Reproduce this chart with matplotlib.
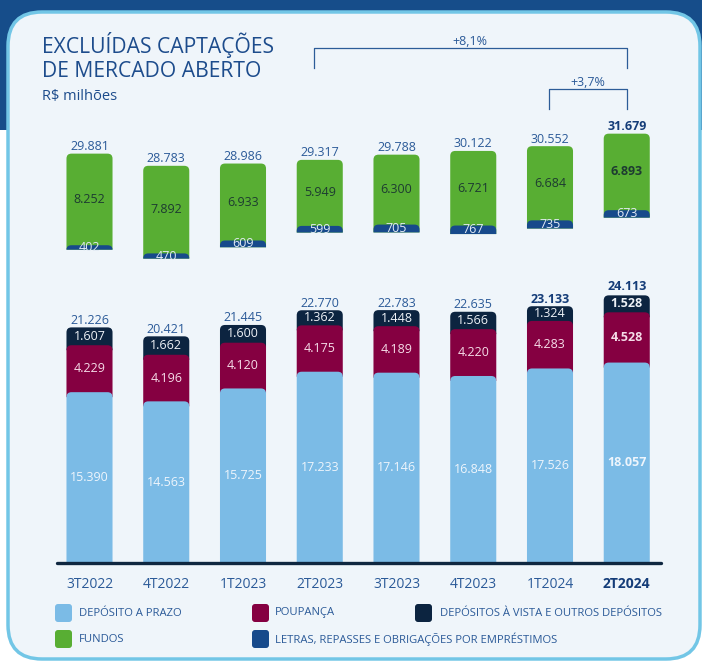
import matplotlib
matplotlib.use("Agg")
import matplotlib.pyplot as plt
from matplotlib.patches import FancyBboxPatch, PathPatch, Rectangle
from matplotlib.path import Path
from matplotlib.transforms import Affine2D

plt.rcParams['font.family'] = ['Open Sans', 'DejaVu Sans']

# ---------------- data ----------------
periods = ["3T2022", "4T2022", "1T2023", "2T2023", "3T2023", "4T2023", "1T2024", "2T2024"]
prazo = [15390, 14563, 15725, 17233, 17146, 16848, 17526, 18057]
poupanca = [4229, 4196, 4120, 4175, 4189, 4220, 4283, 4528]
vista = [1607, 1662, 1600, 1362, 1448, 1566, 1324, 1528]
total_depositos = [21226, 20421, 21445, 22770, 22783, 22635, 23133, 24113]
letras = [402, 470, 609, 599, 705, 767, 735, 673]
fundos = [8252, 7892, 6933, 5949, 6300, 6721, 6684, 6893]
total_geral = [29881, 28783, 28986, 29317, 29788, 30122, 30552, 31679]
var_labels = ["+8,1%", "+3,7%"]
legend_labels = ["DEPÓSITO A PRAZO", "POUPANÇA", "DEPÓSITOS À VISTA E OUTROS DEPÓSITOS",
                 "FUNDOS", "LETRAS, REPASSES E OBRIGAÇÕES POR EMPRÉSTIMOS"]

# ---------------- style ----------------
C_PRAZO = "#7bbbe6"
C_POUP = "#850041"
C_VISTA = "#0c2440"
C_FUNDOS = "#58ae33"
C_LETRAS = "#174a8b"
C_TXT = "#2b5a98"
C_DARK = "#143c78"
GAP = 7000  # visual gap between lower and upper stacks

W, H = 702, 662
fig = plt.figure(figsize=(W / 100, H / 100), dpi=100)
fig.patch.set_facecolor("white")
pix = Affine2D().scale(1 / W, 1 / H) + fig.transFigure

# background
fig.add_artist(Rectangle((0, H - 130), W, 130, transform=pix, fc="#164d8a", ec="none", zorder=-3))
fig.add_artist(FancyBboxPatch((8, H - 659), 692, 647, boxstyle="round,pad=0,rounding_size=34",
                              transform=pix, fc="#eff5fa", ec="#72c6e6", lw=2.5, zorder=-2))

ax = fig.add_axes([0, 0, 1, 1])
ax.patch.set_visible(False)
ax.axis("off")
x0p, dxp = 89.5, 76.75
y0p, syp = 563, 0.0111
ax.set_xlim((0 - x0p) / dxp, (W - x0p) / dxp)
ax.set_ylim((y0p - H) / syp, y0p / syp)


def X(p):
    return (p - x0p) / dxp


def Y(p):
    return (y0p - p) / syp


rx, ry = 5 / dxp, 5 / syp
BW = 0.6


def top_round(x, b, t, color, z):
    x0, x1 = x - BW / 2, x + BW / 2
    r_y = min(ry, t - b)
    verts = [(x0, b), (x1, b), (x1, t - r_y), (x1, t), (x1 - rx, t), (x0 + rx, t),
             (x0, t), (x0, t - r_y), (x0, b)]
    codes = [Path.MOVETO, Path.LINETO, Path.LINETO, Path.CURVE3, Path.CURVE3, Path.LINETO,
             Path.CURVE3, Path.CURVE3, Path.CLOSEPOLY]
    ax.add_patch(PathPatch(Path(verts, codes), fc=color, ec="none", zorder=z))


def fmt(v):
    return f"{v:,}".replace(",", ".")


FS = 9
for i in range(len(periods)):
    last = i == len(periods) - 1
    wt = "bold" if last else "normal"
    t1 = prazo[i]
    t2 = t1 + poupanca[i]
    t3 = t2 + vista[i]
    top_round(i, t2 - ry, t3, C_VISTA, 2)
    top_round(i, t1 - ry, t2, C_POUP, 3)
    top_round(i, 0, t1, C_PRAZO, 4)
    ax.text(i, t1 / 2, fmt(prazo[i]), ha="center", va="center", fontsize=FS, color="#eef5fc", weight=wt, zorder=6)
    ax.text(i, (t1 + t2) / 2, fmt(poupanca[i]), ha="center", va="center", fontsize=FS, color="#f5dce8", weight=wt, zorder=6)
    ax.text(i, (t2 + t3) / 2, fmt(vista[i]), ha="center", va="center", fontsize=FS, color="#eef2f7", weight=wt, zorder=6)
    tw = "bold" if i >= 6 else "normal"
    ax.annotate(fmt(total_depositos[i]), (i, t3), xytext=(0, 4 if last else 2.5), textcoords="offset points",
                ha="center", va="baseline", fontsize=FS, color=C_DARK if i >= 6 else C_TXT, weight=tw, zorder=6)

    base = total_depositos[i] + GAP
    u1 = base + letras[i]
    u2 = u1 + fundos[i]
    top_round(i, base, u2, C_FUNDOS, 2)
    top_round(i, base, u1, C_LETRAS, 3)
    ax.text(i, (u1 + u2) / 2, fmt(fundos[i]), ha="center", va="center", fontsize=FS, color="#1d3b31", weight=wt, zorder=6)
    ax.text(i, (base + u1) / 2, fmt(letras[i]), ha="center", va="center", fontsize=FS, color="#e3ebf5", zorder=6)
    ax.annotate(fmt(total_geral[i]), (i, u2), xytext=(0, 2.5), textcoords="offset points",
                ha="center", va="baseline", fontsize=FS, color=C_DARK if last else C_TXT, weight=wt, zorder=6)

    ax.text(i, Y(588), periods[i], ha="center", va="baseline", fontsize=10,
            color=C_DARK if last else C_TXT, weight=wt)

# baseline
ax.plot([X(57), X(661)], [0, 0], color="#0f2740", lw=2.4, solid_capstyle="round", zorder=7)

# variation brackets
bc = "#2c5c98"
ax.plot([X(314), X(314), X(627), X(627)], [Y(68), Y(48), Y(48), Y(68)], color=bc, lw=0.9)
ax.text(X(470), Y(45), var_labels[0], ha="center", va="baseline", fontsize=FS, color=C_TXT)
ax.plot([X(549), X(549), X(627), X(627)], [Y(109), Y(89), Y(89), Y(109)], color=bc, lw=0.9)
ax.text(X(588), Y(86), var_labels[1], ha="center", va="baseline", fontsize=FS, color=C_TXT)

# titles
fig.text(42 / W, 1 - 53 / H, "EXCLUÍDAS CAPTAÇÕES", fontsize=15.2, color="#1d4c8c", va="baseline")
fig.text(42 / W, 1 - 77 / H, "DE MERCADO ABERTO", fontsize=15.2, color="#1d4c8c", va="baseline")
fig.text(42 / W, 1 - 100 / H, "R$ milhões", fontsize=10.5, color="#1d4c8c", va="baseline")

# legend
leg = [(55, 613, C_PRAZO, 79), (252, 613, C_POUP, 275), (415, 613, C_VISTA, 440),
       (55, 639, C_FUNDOS, 79), (252, 639, C_LETRAS, 275)]
for (sx, cy, col, tx), lab in zip(leg, legend_labels):
    fig.add_artist(FancyBboxPatch((sx, H - cy - 9), 17, 18, boxstyle="round,pad=0,rounding_size=3",
                                  transform=pix, fc=col, ec="none"))
    fig.text(tx / W, 1 - cy / H, lab, fontsize=8.1, color=C_TXT, va="center")

fig.savefig("out.png", dpi=100)
